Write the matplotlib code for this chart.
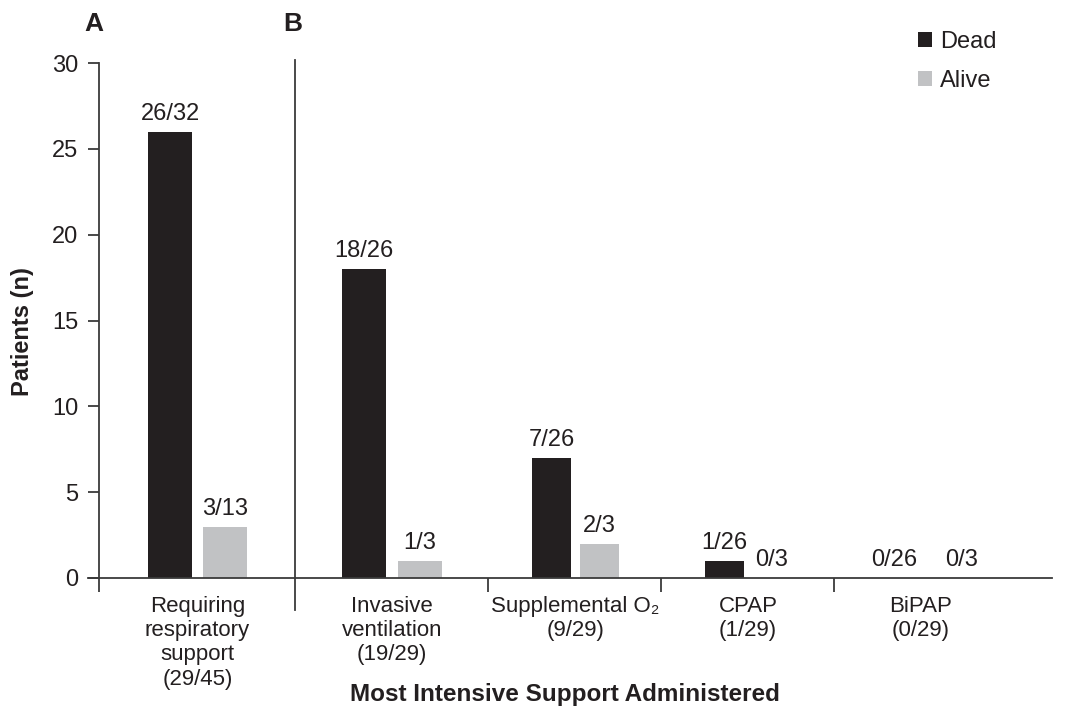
import matplotlib
matplotlib.use("Agg")
import matplotlib.pyplot as plt
from matplotlib.patches import Patch

plt.rcParams['font.family'] = ['Liberation Sans', 'DejaVu Sans']

# ---- data ----
categories = ["Requiring\nrespiratory\nsupport\n(29/45)",
              "Invasive\nventilation\n(19/29)",
              "Supplemental O\u2082\n(9/29)",
              "CPAP\n(1/29)",
              "BiPAP\n(0/29)"]
dead = [26, 18, 7, 1, 0]
alive = [3, 1, 2, 0, 0]
dead_labels = ["26/32", "18/26", "7/26", "1/26", "0/26"]
alive_labels = ["3/13", "1/3", "2/3", "0/3", "0/3"]
yticks = [0, 5, 10, 15, 20, 25, 30]

TXT = '#231f20'
DEAD_C = '#231f20'
ALIVE_C = '#c1c2c4'
LINE_C = '#3a3a3a'

fig = plt.figure(figsize=(10.68, 7.13), dpi=100)
W, H = 1068, 713
ax = fig.add_axes([88 / W, 1 - 578 / H, (1052 - 88) / W, (578 - 63) / H])

# layout (pixel-like x units)
centers = [197.5, 392, 575.5, 748, 921]
widths = [44, 44, 39, 39, 39]
offs = [27.5, 28, 24, 24, 24]
boundaries = [99, 488, 661, 834]
separator = 295

for i in range(len(categories)):
    xd = centers[i] - offs[i]
    xa = centers[i] + offs[i]
    ax.bar(xd, dead[i], width=widths[i], color=DEAD_C, zorder=2)
    ax.bar(xa, alive[i], width=widths[i], color=ALIVE_C, zorder=2)
    ld = xd
    la = xa
    if i == 4:
        ld = centers[i] - 27
        la = centers[i] + 41
    ax.annotate(dead_labels[i], (ld, dead[i]), xytext=(0, 5), textcoords='offset points',
                ha='center', va='bottom', fontsize=17, color=TXT)
    ax.annotate(alive_labels[i], (la, alive[i]), xytext=(0, 5), textcoords='offset points',
                ha='center', va='bottom', fontsize=17, color=TXT)

ax.set_xlim(88, 1052)
ax.set_ylim(0, 30)
ax.set_yticks(yticks)
ax.tick_params(axis='y', direction='out', length=8, width=1.3, colors=LINE_C,
               labelsize=17, labelcolor=TXT, pad=7)

ax.set_xticks(centers)
ax.set_xticklabels(categories, fontsize=16, color=TXT, linespacing=1.2)
ax.tick_params(axis='x', which='major', length=0, pad=13)
ax.set_xticks(boundaries, minor=True)
ax.tick_params(axis='x', which='minor', direction='out', length=10, width=1.3, colors=LINE_C)

for s in ['top', 'right']:
    ax.spines[s].set_visible(False)
ax.spines['left'].set_position(('data', 99))
for s in ['left', 'bottom']:
    ax.spines[s].set_linewidth(1.3)
    ax.spines[s].set_color(LINE_C)

# panel separator
ax.axvline(separator, ymin=-32 / 515, ymax=518 / 515, color=LINE_C, lw=1.3, clip_on=False)

fig.text(23 / W, 1 - 332 / H, "Patients (n)", ha='center', va='center', rotation=90,
         fontsize=17, fontweight='bold', color=TXT)
fig.text(565 / W, 1 - 695 / H, "Most Intensive Support Administered", ha='center', va='center',
         fontsize=17.5, fontweight='bold', color=TXT)

fig.text(94 / W, 1 - 24 / H, "A", ha='center', va='center', fontsize=19, fontweight='bold', color=TXT)
fig.text(292.5 / W, 1 - 24 / H, "B", ha='center', va='center', fontsize=19, fontweight='bold', color=TXT)

handles = [Patch(facecolor=DEAD_C, label='Dead'), Patch(facecolor=ALIVE_C, label='Alive')]
leg = fig.legend(handles=handles, loc='upper left', bbox_to_anchor=(918 / W, 1 - 31 / H),
                 frameon=False, fontsize=17, handlelength=0.6, handleheight=0.6,
                 handletextpad=0.35, labelspacing=0.72, borderaxespad=0, borderpad=0)
for t in leg.get_texts():
    t.set_color(TXT)

fig.savefig("out.png", dpi=100)
